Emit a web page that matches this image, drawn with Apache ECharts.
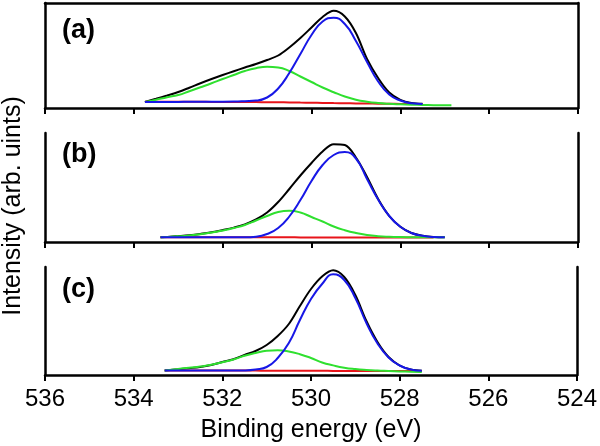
<!DOCTYPE html>
<html>
<head>
<meta charset="utf-8">
<script src="https://cdn.jsdelivr.net/npm/echarts@6/dist/echarts.min.js"></script>
<style>
html,body{margin:0;padding:0;background:#fff;}
#chart{width:600px;height:446px;}
</style>
</head>
<body>
<div id="chart"></div>
<script>
// ---- Data (binding energy in eV, intensity in arbitrary units) ----
const xTicks = [536, 534, 532, 530, 528, 526, 524];
const panelLabels = ['(a)', '(b)', '(c)'];

// Panel (a)
const energyA = [533.75,533.5,533.25,533.0,532.75,532.5,532.25,532.0,531.75,531.5,531.25,531.0,530.75,530.5,530.25,530.0,529.75,529.5,529.25,529.0,528.75,528.5,528.25,528.0,527.75,527.5,527.25,527.0,526.85];
const totalA = [6,9.2,12.5,16,20.3,24.8,29,33,36.8,40.5,44,48,52.5,60.5,70,80.5,91,97.2,91.5,75,49,30,15.5,8.2,5,4.2,null,null,null];
const peak1A = [6.0,6.0,6.1,6.1,6.2,6.2,6.3,6.3,6.4,6.8,7.4,10.5,19.5,35,54,73,86.5,90.3,84,67,46,26.5,13.5,7.5,4.8,4.0,null,null,null];
const peak2A = [6,8.3,10.8,13,16.8,20.7,24.7,29,33,37,39.8,41.2,40.5,37,31.5,26,20.5,15.8,11.5,8.3,6.3,5.0,4.2,3.7,3.3,3.0,2.8,2.7,2.7];
const bgA    = [6.3,6.3,6.3,6.2,6.2,6.2,6.1,6.1,6.0,6.0,5.9,5.8,5.7,5.6,5.4,5.3,5.1,4.9,4.8,4.6,4.5,4.3,4.2,4.1,4.0,4.0,null,null,null];

// Panel (b)
const energyB = [533.4,533.25,533.0,532.75,532.5,532.25,532.0,531.75,531.5,531.25,531.0,530.75,530.5,530.25,530.0,529.75,529.5,529.25,529.0,528.75,528.5,528.25,528.0,527.75,527.5,527.25,527.0];
const totalB = [4.7,5.1,5.9,6.8,8.1,9.7,11.9,14.4,17.6,22.5,29.5,40,53,66.5,79,90.5,97.8,97,84.5,65,43,26,15.2,9,6.2,5.0,4.7];
const peak1B = [4.7,4.7,4.7,4.7,4.7,4.7,4.7,4.7,4.7,5.3,8,14,25.5,42,61,77,87,90,83.5,63,42.5,26,15.2,9,6.2,5.0,4.7];
const peak2B = [4.7,5.0,5.7,6.6,7.8,9.4,11.5,14,17,21.5,26,30,31.2,29.5,25,20.5,15.5,11.8,9,7,5.8,5.2,4.9,4.8,4.7,4.7,4.7];
const bgB    = [4.8,4.8,4.8,4.8,4.8,4.7,4.7,4.7,4.7,4.7,4.7,4.7,4.7,4.6,4.6,4.6,4.6,4.6,4.6,4.5,4.5,4.5,4.5,4.5,4.5,4.5,null];

// Panel (c)
const energyC = [533.3,533.0,532.75,532.5,532.25,532.0,531.75,531.5,531.25,531.0,530.75,530.5,530.25,530.0,529.75,529.5,529.25,529.0,528.75,528.5,528.25,528.0,527.75,527.5];
const totalC = [4.5,5.7,6.8,8.0,10.0,13,15.8,20,24,30,39,51,69,86,98.5,104.7,98,80,54,33,18,9.5,5.5,4.2];
const peak1C = [4.5,4.5,4.5,4.5,4.5,4.5,4.5,4.6,5.5,8,17,32,55,76,91,100.7,95,77,52,31.5,17.5,9.5,5.5,4.2];
const peak2C = [4.5,6.0,7.3,8.5,10.2,12.8,15.5,19.3,22,24.2,24.7,23.5,20.8,17,12.5,9.6,7.3,5.9,5.0,4.4,4.0,3.6,3.3,3.0];
const bgC    = [4.6,4.6,4.5,4.5,4.5,4.5,4.4,4.4,4.4,4.3,4.3,4.3,4.2,4.2,4.2,4.1,4.1,4.1,4.0,4.0,4.0,3.9,3.9,3.9];

// ---- Build ----
const FONT = 'Liberation Sans, Arial, Helvetica, sans-serif';
const panels = [
  {e: energyA, total: totalA, p1: peak1A, p2: peak2A, bg: bgA, top: 3, height: 105},
  {e: energyB, total: totalB, p1: peak1B, p2: peak2B, bg: bgB, top: 133, height: 109},
  {e: energyC, total: totalC, p1: peak1C, p2: peak2C, bg: bgC, top: 267, height: 108}
];
function pairs(e, v) {
  const out = [];
  for (let i = 0; i < e.length; i++) if (v[i] !== null && v[i] !== undefined) out.push([e[i], v[i]]);
  return out;
}
const axisLineStyle = {color: '#000', width: 2.5};
const grids = [], xAxes = [], yAxes = [], series = [];
panels.forEach((p, i) => {
  grids.push({left: 45, right: 22, top: p.top, height: p.height});
  xAxes.push({
    gridIndex: i, type: 'value', min: 524, max: 536, interval: 2, inverse: true,
    axisLine: {show: true, onZero: false, lineStyle: axisLineStyle},
    axisTick: {show: true, inside: false, length: 6, lineStyle: {color: '#000', width: 2}},
    axisLabel: {show: i === 2, color: '#000', fontSize: 24, fontFamily: FONT, margin: 12,
      formatter: v => xTicks.indexOf(v) >= 0 ? String(v) : ''},
    splitLine: {show: false},
    name: i === 2 ? 'Binding energy (eV)' : '',
    nameLocation: 'middle', nameGap: 43,
    nameTextStyle: {color: '#000', fontSize: 25, fontFamily: FONT}
  });
  yAxes.push({
    gridIndex: i, type: 'value', min: 0, max: p.height, position: 'left',
    axisLine: {show: true, onZero: false, lineStyle: axisLineStyle},
    axisTick: {show: false}, axisLabel: {show: false}, splitLine: {show: false}
  });
});
panels.forEach((p, i) => {
  yAxes.push({
    gridIndex: i, type: 'value', min: 0, max: p.height, position: 'right',
    axisLine: {show: true, onZero: false, lineStyle: axisLineStyle},
    axisTick: {show: false}, axisLabel: {show: false}, splitLine: {show: false}
  });
});
// top frame line of panel (a)
xAxes.push({
  gridIndex: 0, type: 'value', min: 524, max: 536, inverse: true, position: 'top',
  axisLine: {show: true, onZero: false, lineStyle: axisLineStyle},
  axisTick: {show: false}, axisLabel: {show: false}, splitLine: {show: false}
});

const defs = [
  {key: 'total', name: 'Measured', color: '#000000', smooth: 0.35},
  {key: 'bg', name: 'Background', color: '#e8141a', smooth: 0.5},
  {key: 'p2', name: 'Component 2', color: '#2fe02f', smooth: 0.5},
  {key: 'p1', name: 'Component 1', color: '#1717e6', smooth: 0.5}
];
panels.forEach((p, i) => {
  defs.forEach(d => {
    series.push({
      type: 'line', name: d.name, xAxisIndex: i, yAxisIndex: i,
      data: pairs(p.e, p[d.key]), showSymbol: false, smooth: d.smooth,
      lineStyle: {color: d.color, width: 2}, itemStyle: {color: d.color},
      silent: true
    });
  });
});

const graphic = [
  {type: 'text', left: 62, top: 17, style: {text: panelLabels[0], font: 'bold 27px ' + FONT, fill: '#000'}},
  {type: 'text', left: 62, top: 141, style: {text: panelLabels[1], font: 'bold 27px ' + FONT, fill: '#000'}},
  {type: 'text', left: 62, top: 276, style: {text: panelLabels[2], font: 'bold 27px ' + FONT, fill: '#000'}},
  {type: 'text', x: 13, y: 206, rotation: Math.PI / 2,
   style: {text: 'Intensity (arb. uints)', font: '25px ' + FONT, fill: '#000', align: 'center', verticalAlign: 'middle'}}
];

const chart = echarts.init(document.getElementById('chart'), null, {renderer: 'canvas'});
chart.setOption({
  animation: false,
  backgroundColor: '#ffffff',
  grid: grids, xAxis: xAxes, yAxis: yAxes, series: series, graphic: graphic
});
</script>
</body>
</html>
